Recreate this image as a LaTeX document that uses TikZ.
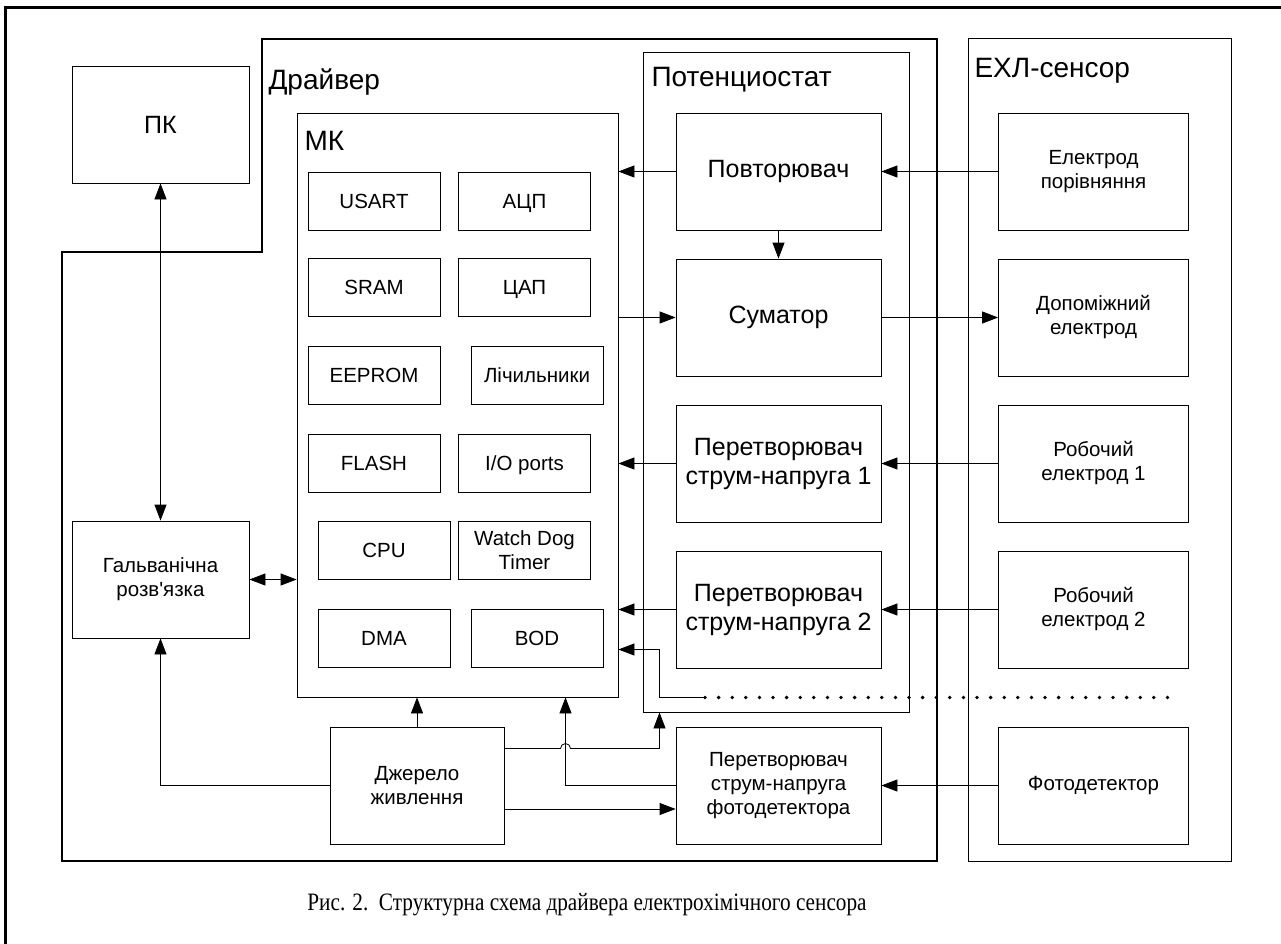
\documentclass[tikz,border=0pt]{standalone}
\usepackage{fontspec}
\setmainfont{Liberation Sans}[Ligatures=TeXOff]
\newfontfamily\captfont[FakeStretch=0.85]{Liberation Serif}
\usetikzlibrary{arrows.meta}

\tikzset{
  blk/.style={draw, line width=0.8pt, align=center, inner sep=0pt, font=\fontsize{20.5}{24}\selectfont},
  big/.style={font=\fontsize{25}{29}\selectfont},
  lbl/.style={font=\fontsize{28}{32}\selectfont, anchor=west},
  cell/.style={blk, minimum width=132pt, minimum height=58pt, text height=17pt, text depth=2.3pt},
  pbox/.style={blk, big, minimum width=205pt, minimum height=117pt},
  ebox/.style={blk, minimum width=190pt, minimum height=117pt},
  conn/.style={-{Triangle[length=16pt,width=12pt]}, line width=0.8pt},
  dconn/.style={{Triangle[length=16pt,width=12pt]}-{Triangle[length=16pt,width=12pt]}, line width=0.8pt}
}

\begin{document}
\begin{tikzpicture}[x=1pt, y=-1pt]
\useasboundingbox (0,0) rectangle (1281,944);

% outer frame
\draw[line width=3pt] (5,944) -- (5,8) -- (1281,8);

% driver outline
\draw[line width=1.5pt] (62,252) -- (262,252) -- (262,39) -- (937,39) -- (937,861) -- (62,861) -- cycle;
\node (drvlbl) [lbl] at (265,82) {Драйвер};

% PC and isolation
\node (pc) [blk, big, minimum width=177pt, minimum height=117pt] at (160.5,124.5) {ПК};
\node (galv) [blk, minimum width=177pt, minimum height=117pt] at (160.5,579.5) {Гальванічна\\розв'язка};

% microcontroller
\node (mk) [draw, line width=0.8pt, minimum width=321pt, minimum height=584pt] at (457.5,405) {};
\node (mklbl) [lbl] at (301,141) {МК};
\node (usart) [cell] at (374,201) {USART};
\node (adc)   [cell] at (524.5,201) {АЦП};
\node (sram)  [cell] at (374,287) {SRAM};
\node (dac)   [cell] at (524.5,287) {ЦАП};
\node (eep)   [cell] at (374,375) {EEPROM};
\node (cnt)   [cell] at (537,375) {Лічильники};
\node (flash) [cell] at (374,463) {FLASH};
\node (io)    [cell] at (524.5,463) {I/O ports};
\node (cpu)   [cell] at (384,550) {CPU};
\node (wdt)   [cell, text height={}, text depth={}] at (524.5,550) {Watch Dog\\Timer};
\node (dma)   [cell] at (384,638) {DMA};
\node (bod)   [cell] at (537,638) {BOD};

% potentiostat
\node (pot) [draw, line width=0.8pt, minimum width=266pt, minimum height=660pt] at (776,382) {};
\node (potlbl) [lbl] at (648,80) {Потенциостат};
\node (rep) [pbox] at (778.5,171.5) {Повторювач};
\node (sum) [pbox] at (778.5,317.5) {Суматор};
\node (cv1) [pbox] at (778.5,463.5) {Перетворювач\\струм-напруга 1};
\node (cv2) [pbox] at (778.5,609.5) {Перетворювач\\струм-напруга 2};
\node (pdc) [blk, minimum width=205pt, minimum height=117pt] at (778.5,785.5) {Перетворювач\\струм-напруга\\фотодетектора};

% power supply
\node (psu) [blk, minimum width=174pt, minimum height=117pt] at (417,785.5) {Джерело\\живлення};

% sensor
\node (sens) [draw, line width=0.8pt, minimum width=263pt, minimum height=823pt] at (1099.5,450) {};
\node (senslbl) [lbl] at (971,71) {ЕХЛ-сенсор};
\node (ref) [ebox] at (1093.5,171.5) {Електрод\\порівняння};
\node (aux) [ebox] at (1093.5,317.5) {Допоміжний\\електрод};
\node (we1) [ebox] at (1093.5,463.5) {Робочий\\електрод 1};
\node (we2) [ebox] at (1093.5,609.5) {Робочий\\електрод 2};
\node (pd)  [ebox] at (1093.5,785.5) {Фотодетектор};

% connections
\draw[dconn] (pc.south) -- (galv.north);
\draw[dconn] (galv.east) -- (galv.east -| mk.west);
\draw[conn] (psu.west) -| (galv.south);
\draw[conn] (psu.north) -- (psu.north |- mk.south);

\coordinate (jmp) at (565.5,748.5);
\coordinate (feed) at (659.5,748.5);
\draw[conn] (psu.east |- jmp) -- ([xshift=-5pt]jmp) arc (180:0:5pt) -- (feed) -- (feed |- pot.south);
\draw[conn] (pdc.west) -| (jmp |- mk.south);
\draw[conn] ([yshift=-23.5pt]psu.east) -- ([yshift=-23.5pt]psu.east -| pdc.west);

\draw[conn] (rep.west) -- (rep.west -| mk.east);
\draw[conn] (rep.south) -- (sum.north);
\draw[conn] (sum.west -| mk.east) -- (sum.west);
\draw[conn] (cv1.west) -- (cv1.west -| mk.east);
\draw[conn] (cv2.west) -- (cv2.west -| mk.east);

\draw[conn] (ref.west) -- (rep.east);
\draw[conn] (sum.east) -- (aux.west);
\draw[conn] (we1.west) -- (cv1.east);
\draw[conn] (we2.west) -- (cv2.east);
\draw[conn] (pd.west) -- (pdc.east);

% extension line with dots
\coordinate (dstart) at (705,697.5);
\coordinate (bodin) at (659.5,649.5);
\draw[conn] (dstart) -- (bodin |- dstart) -- (bodin) -- (bodin -| mk.east);
\foreach \i in {0,...,34}
  \fill (705+13.6*\i,697.5) circle (1.9pt);

% caption
\node (cap) at (587,905) {\captfont\fontsize{25}{29}\selectfont Рис. 2.~~Структурна схема драйвера електрохімічного сенсора};
\end{tikzpicture}
\end{document}
